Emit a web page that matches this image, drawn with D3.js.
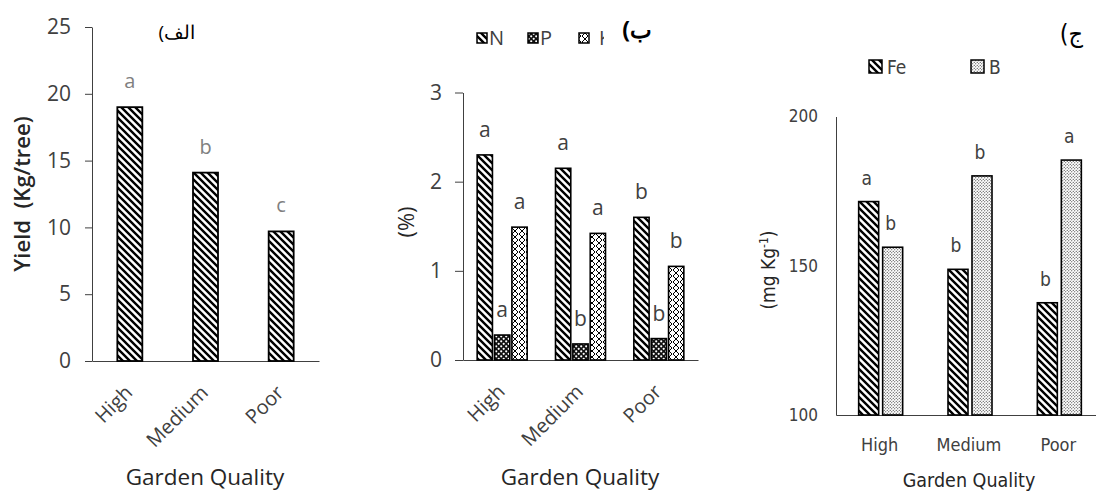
<!DOCTYPE html>
<html>
<head>
<meta charset="utf-8">
<script src="https://cdn.jsdelivr.net/npm/d3@7"></script>
<style>
  body { margin: 0; background: #fff; }
  svg { display: block; }
  .wide text { font-family: "Open Sans", "Noto Sans", sans-serif; }
  .narrow text { font-family: "Liberation Sans Narrow", "DejaVu Sans Condensed", sans-serif; }
</style>
</head>
<body>
<div id="chart_parent"></div>
<script>
// values
const categories = ['High', 'Medium', 'Poor'];

const yieldValues = [19.0, 14.1, 9.7];
const yieldLetters = ['a', 'b', 'c'];
const yieldTicks = [0, 5, 10, 15, 20, 25];

const nutrientSeries = ['N', 'P', 'K'];
const nValues = [2.3, 2.15, 1.6];
const pValues = [0.28, 0.18, 0.24];
const kValues = [1.49, 1.42, 1.05];
const nLetters = ['a', 'a', 'b'];
const pLetters = ['a', 'b', 'b'];
const kLetters = ['a', 'a', 'b'];
const percentTicks = [0, 1, 2, 3];

const microSeries = ['Fe', 'B'];
const feValues = [171.5, 148.8, 137.6];
const bValues = [156.2, 180.1, 185.4];
const feLetters = ['a', 'b', 'b'];
const bLetters = ['b', 'b', 'a'];
const microTicks = [100, 150, 200];

const svg = d3.select('#chart_parent').append('svg')
    .attr('width', 1096)
    .attr('height', 493);

const axisColor = '#404040';

// ---- fill patterns
const defs = svg.append('defs');

function addPattern(id, w, h, draw) {
    const p = defs.append('pattern')
        .attr('id', id)
        .attr('patternUnits', 'userSpaceOnUse')
        .attr('width', w)
        .attr('height', h);
    draw(p);
}

addPattern('diag', 7, 7, p => {
    p.append('rect').attr('width', 7).attr('height', 7).attr('fill', '#fff');
    p.append('path')
        .attr('d', 'M0,0L7,7M-1,6L1,8M6,-1L8,1')
        .attr('stroke', '#000')
        .attr('stroke-width', 2.4);
});

addPattern('confetti', 5, 5, p => {
    p.append('rect').attr('width', 5).attr('height', 5).attr('fill', '#111');
    p.append('circle').attr('cx', 1.2).attr('cy', 1.3).attr('r', 1.1).attr('fill', '#fff');
    p.append('circle').attr('cx', 3.7).attr('cy', 3.8).attr('r', 1.1).attr('fill', '#fff');
});

addPattern('zigzag', 7, 6, p => {
    p.append('rect').attr('width', 7).attr('height', 6).attr('fill', '#fff');
    p.append('path')
        .attr('d', 'M1,0L4,3L1,6M7,0L4,3L7,6')
        .attr('fill', 'none')
        .attr('stroke', '#000')
        .attr('stroke-width', 1);
});

addPattern('dots', 3, 3, p => {
    p.append('rect').attr('width', 3).attr('height', 3).attr('fill', '#fff');
    p.append('circle').attr('cx', 0.75).attr('cy', 0.75).attr('r', 0.6).attr('fill', '#222');
    p.append('circle').attr('cx', 2.25).attr('cy', 2.25).attr('r', 0.6).attr('fill', '#222');
});

function styleAxis(g) {
    g.selectAll('path, line').attr('stroke', axisColor);
    g.selectAll('text').attr('fill', axisColor);
}

function rotateTickLabels(g) {
    g.selectAll('.tick text')
        .attr('x', 0)
        .attr('y', 0)
        .attr('dy', '0.35em')
        .attr('text-anchor', 'end')
        .attr('transform', 'translate(-1,28) rotate(-45)');
}

// ================= panel 1 : yield =================
const p1 = svg.append('g').attr('class', 'wide');

const x1 = d3.scaleBand().domain(categories).range([92, 319]).padding(0);
const y1 = d3.scaleLinear().domain([0, 25]).range([361, 27]);
const bar1Width = 25;

p1.append('g')
    .attr('transform', 'translate(92,0)')
    .call(d3.axisLeft(y1).tickValues(yieldTicks).tickSize(7).tickSizeOuter(0).tickPadding(14))
    .call(styleAxis)
    .call(g => g.selectAll('text').attr('font-size', 21));

p1.append('g')
    .attr('transform', 'translate(0,361)')
    .call(d3.axisBottom(x1).tickSize(0).tickSizeOuter(0))
    .call(styleAxis)
    .call(g => g.selectAll('text').attr('font-size', 20))
    .call(rotateTickLabels);

p1.selectAll('.bar')
    .data(categories)
    .join('rect')
    .attr('class', 'bar')
    .attr('x', (d) => x1(d) + x1.bandwidth() / 2 - bar1Width / 2)
    .attr('y', (d, i) => y1(yieldValues[i]))
    .attr('width', bar1Width)
    .attr('height', (d, i) => y1(0) - y1(yieldValues[i]))
    .attr('fill', 'url(#diag)')
    .attr('stroke', '#000')
    .attr('stroke-width', 1.8);

p1.selectAll('.letter')
    .data(categories)
    .join('text')
    .attr('class', 'letter')
    .attr('x', (d) => x1(d) + x1.bandwidth() / 2)
    .attr('y', (d, i) => y1(yieldValues[i]) - 19)
    .attr('text-anchor', 'middle')
    .attr('font-size', 20)
    .attr('fill', '#7f7f7f')
    .text((d, i) => yieldLetters[i]);

p1.append('text')
    .attr('transform', 'translate(30,194) rotate(-90)')
    .attr('text-anchor', 'middle')
    .attr('font-size', 22)
    .attr('font-weight', 600)
    .attr('fill', '#262626')
    .attr('xml:space', 'preserve')
    .text('Yield  (Kg/tree)');

p1.append('text')
    .attr('x', 205)
    .attr('y', 485)
    .attr('text-anchor', 'middle')
    .attr('font-size', 22.5)
    .attr('fill', '#262626')
    .text('Garden Quality');

p1.append('text')
    .attr('x', 195)
    .attr('y', 39)
    .attr('direction', 'rtl')
    .attr('font-size', 19)
    .attr('fill', '#000')
    .text('الف)');

// ================= panel 2 : N P K =================
const p2 = svg.append('g').attr('class', 'wide');

const x2 = d3.scaleBand().domain(categories).range([463, 698]).padding(0);
const x2Inner = d3.scaleBand().domain(nutrientSeries).range([-25, 25]).paddingInner(0.12);
const y2 = d3.scaleLinear().domain([0, 3]).range([360, 92.5]);

const nutrientData = nutrientSeries.map((s, si) => ({
    key: s,
    values: [nValues, pValues, kValues][si],
    letters: [nLetters, pLetters, kLetters][si],
    fill: ['url(#diag)', 'url(#confetti)', 'url(#zigzag)'][si],
}));

p2.append('g')
    .attr('transform', 'translate(463,0)')
    .call(d3.axisLeft(y2).tickValues(percentTicks).tickFormat(d3.format('d'))
        .tickSize(8).tickSizeOuter(0).tickPadding(13))
    .call(styleAxis)
    .call(g => g.selectAll('text').attr('font-size', 21));

p2.append('g')
    .attr('transform', 'translate(0,360)')
    .call(d3.axisBottom(x2).tickSize(0).tickSizeOuter(0))
    .call(styleAxis)
    .call(g => g.selectAll('text').attr('font-size', 20))
    .call(rotateTickLabels);

const p2Series = p2.selectAll('.series')
    .data(nutrientData)
    .join('g')
    .attr('class', 'series');

p2Series.selectAll('rect')
    .data(s => categories.map((c, i) => ({ c, v: s.values[i], s })))
    .join('rect')
    .attr('x', d => x2(d.c) + x2.bandwidth() / 2 + x2Inner(d.s.key))
    .attr('y', d => y2(d.v))
    .attr('width', x2Inner.bandwidth())
    .attr('height', d => y2(0) - y2(d.v))
    .attr('fill', d => d.s.fill)
    .attr('stroke', '#000')
    .attr('stroke-width', 1.6);

p2Series.selectAll('text')
    .data(s => categories.map((c, i) => ({ c, v: s.values[i], l: s.letters[i], s })))
    .join('text')
    .attr('x', d => x2(d.c) + x2.bandwidth() / 2 + x2Inner(d.s.key) + x2Inner.bandwidth() / 2)
    .attr('y', d => y2(d.v) - 18)
    .attr('text-anchor', 'middle')
    .attr('font-size', 21)
    .attr('fill', '#404040')
    .text(d => d.l);

p2.append('text')
    .attr('transform', 'translate(414,222) rotate(-90)')
    .attr('text-anchor', 'middle')
    .attr('font-size', 22)
    .attr('fill', '#262626')
    .text('(%)');

p2.append('text')
    .attr('x', 580)
    .attr('y', 485)
    .attr('text-anchor', 'middle')
    .attr('font-size', 22.5)
    .attr('fill', '#262626')
    .text('Garden Quality');

// legend (last label is cut off in the original)
defs.append('clipPath').attr('id', 'legendClip')
    .append('rect').attr('x', 470).attr('y', 20).attr('width', 134).attr('height', 40);

const legend2 = p2.append('g').attr('clip-path', 'url(#legendClip)');
const legend2X = d3.scalePoint().domain(nutrientSeries).range([477, 579]);

legend2.selectAll('rect')
    .data(nutrientData)
    .join('rect')
    .attr('x', d => legend2X(d.key))
    .attr('y', 33)
    .attr('width', 10)
    .attr('height', 10)
    .attr('fill', d => d.fill)
    .attr('stroke', '#000')
    .attr('stroke-width', 1.5);

legend2.selectAll('text')
    .data(nutrientData)
    .join('text')
    .attr('x', (d, i) => legend2X(d.key) + (i === 2 ? 20 : 12))
    .attr('y', 45)
    .attr('font-size', 20)
    .attr('fill', '#404040')
    .text(d => d.key);

p2.append('text')
    .attr('x', 652)
    .attr('y', 38)
    .attr('direction', 'rtl')
    .attr('font-size', 23)
    .attr('font-weight', 700)
    .attr('fill', '#000')
    .text('ب)');

// ================= panel 3 : Fe B =================
const p3 = svg.append('g').attr('class', 'narrow');

const x3 = d3.scaleBand().domain(categories).range([836, 1104]).padding(0);
const x3Inner = d3.scaleBand().domain(microSeries).range([-22, 22]).paddingInner(1 / 6);
const y3 = d3.scaleLinear().domain([100, 200]).range([415, 116.5]);

const microData = microSeries.map((s, si) => ({
    key: s,
    values: [feValues, bValues][si],
    letters: [feLetters, bLetters][si],
    fill: ['url(#diag)', 'url(#dots)'][si],
}));

p3.append('g')
    .attr('transform', 'translate(836,0)')
    .call(d3.axisLeft(y3).tickValues(microTicks).tickSize(0).tickPadding(18))
    .call(styleAxis)
    .call(g => g.selectAll('text').attr('font-size', 17));

p3.append('g')
    .attr('transform', 'translate(0,415)')
    .call(d3.axisBottom(x3).tickSize(0).tickSizeOuter(0).tickPadding(23))
    .call(styleAxis)
    .call(g => g.selectAll('.tick text').attr('font-size', 18).attr('dx', -1));

const p3Series = p3.selectAll('.series')
    .data(microData)
    .join('g')
    .attr('class', 'series');

p3Series.selectAll('rect')
    .data(s => categories.map((c, i) => ({ c, v: s.values[i], s })))
    .join('rect')
    .attr('x', d => x3(d.c) + x3.bandwidth() / 2 + x3Inner(d.s.key))
    .attr('y', d => y3(d.v))
    .attr('width', x3Inner.bandwidth())
    .attr('height', d => y3(100) - y3(d.v))
    .attr('fill', d => d.s.fill)
    .attr('stroke', '#000')
    .attr('stroke-width', 1.6);

p3Series.selectAll('text')
    .data(s => categories.map((c, i) => ({ c, v: s.values[i], l: s.letters[i], s })))
    .join('text')
    .attr('x', d => x3(d.c) + x3.bandwidth() / 2 + x3Inner(d.s.key) + x3Inner.bandwidth() / 2 - 2)
    .attr('y', d => y3(d.v) - 17)
    .attr('text-anchor', 'middle')
    .attr('font-size', 19)
    .attr('fill', '#404040')
    .text(d => d.l);

const y3Label = p3.append('text')
    .attr('transform', 'translate(775,270) rotate(-90)')
    .attr('text-anchor', 'middle')
    .attr('font-size', 19)
    .attr('fill', '#262626');
y3Label.append('tspan').text('(mg Kg');
y3Label.append('tspan').attr('dy', -7).attr('font-size', 12).text('-1');
y3Label.append('tspan').attr('dy', 7).text(')');

p3.append('text')
    .attr('x', 969)
    .attr('y', 487)
    .attr('text-anchor', 'middle')
    .attr('font-size', 19.5)
    .attr('fill', '#262626')
    .text('Garden Quality');

const legend3X = d3.scalePoint().domain(microSeries).range([869, 971]);

p3.selectAll('.legend-swatch')
    .data(microData)
    .join('rect')
    .attr('class', 'legend-swatch')
    .attr('x', d => legend3X(d.key))
    .attr('y', 60)
    .attr('width', 13)
    .attr('height', 13)
    .attr('fill', d => d.fill)
    .attr('stroke', '#000')
    .attr('stroke-width', 1.5);

p3.selectAll('.legend-label')
    .data(microData)
    .join('text')
    .attr('class', 'legend-label')
    .attr('x', d => legend3X(d.key) + 18)
    .attr('y', 74)
    .attr('font-size', 19)
    .attr('fill', '#404040')
    .text(d => d.key);

p3.append('text')
    .attr('x', 1083)
    .attr('y', 42)
    .attr('direction', 'rtl')
    .attr('font-size', 25)
    .attr('fill', '#000')
    .text('ج)');
</script>
</body>
</html>
